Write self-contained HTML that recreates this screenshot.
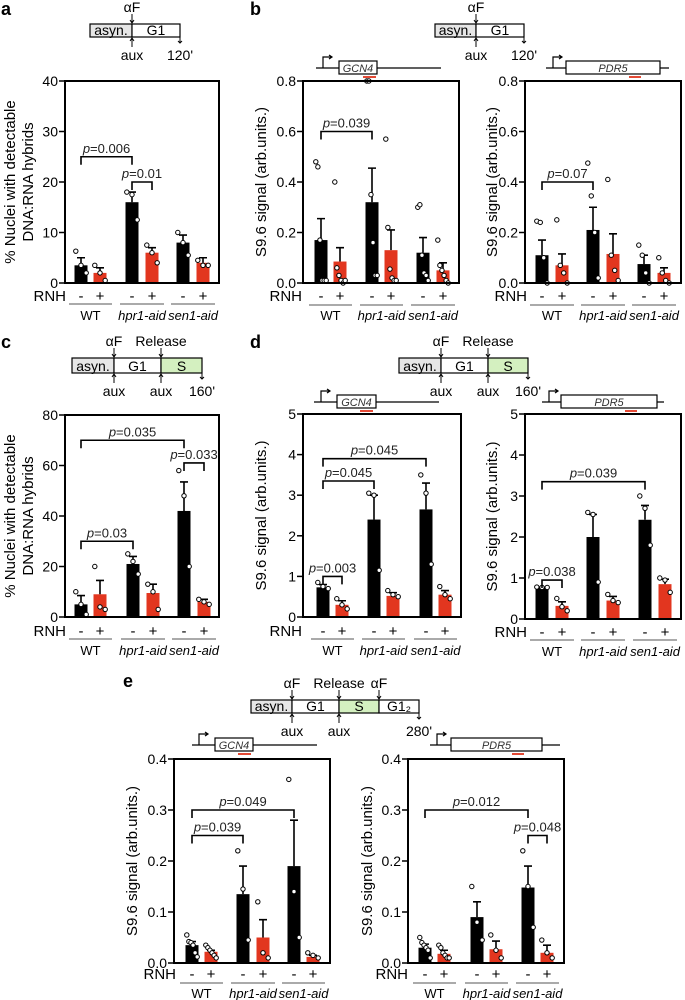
<!DOCTYPE html>
<html><head><meta charset="utf-8">
<style>
html,body{margin:0;padding:0;background:#fff;}
svg{display:block;font-family:"Liberation Sans",Arial,sans-serif;}
</style></head>
<body>
<svg id="fig" width="685" height="1000" viewBox="0 0 685 1000" xmlns="http://www.w3.org/2000/svg"></svg>
<script>
// ---------- DATA ----------
const conditions = ["WT-","WT+","hpr1-","hpr1+","sen1-","sen1+"];
const groupNames = ["WT","hpr1-aid","sen1-aid"];

const aTicks = ["0","10","20","30","40"];
const aMeans = [3.5, 2, 16, 6, 8, 4];
const aErr = [5, 3, 18, 7, 9.5, 5];
const aPts = [[6.3,3.5,2],[3.5,2,0.5],[18,17.5,12.5],[7.5,6,4],[10,8,5.5],[4.5,3.5,3.5]];
const aBrackets = [[0,2,25,"0.006"],[2,3,20,"0.01"]];

const b1Ticks = ["0.0","0.2","0.4","0.6","0.8"];
const b1Means = [0.17, 0.085, 0.32, 0.13, 0.12, 0.05];
const b1Err = [0.255, 0.14, 0.455, 0.21, 0.18, 0.08];
const b1Pts = [[0.48,0.46,0.17,0.01,0.01,0.01],[0.4,0.06,0.03,0.01,0.0,0.01],[0.8,0.8,0.35,0.16,0.03,0.03],[0.57,0.22,0.055,0.02,0.01,0.01],[0.3,0.31,0.11,0.04,0.03,0.01],[0.17,0.07,0.05,0.03,0.01,0.0]];
const b1Brackets = [[0,2,0.6,"0.039"]];

const b2Ticks = ["0.0","0.2","0.4","0.6","0.8"];
const b2Means = [0.11, 0.07, 0.21, 0.115, 0.075, 0.04];
const b2Err = [0.17, 0.115, 0.3, 0.195, 0.11, 0.06];
const b2Pts = [[0.245,0.24,0.1,0.0],[0.25,0.07,0.04,0.0],[0.475,0.345,0.2,0.02],[0.41,0.11,0.05,0.01],[0.15,0.11,0.04,0.0],[0.1,0.04,0.01,0.0]];
const b2Brackets = [[0,2,0.4,"0.07"]];

const cTicks = ["0","20","40","60","80"];
const cMeans = [5, 9, 21, 9.5, 42, 6];
const cErr = [8.5, 14.5, 24, 13, 53.5, 7];
const cPts = [[10,5,1],[20,4,3],[25,22,17],[13,10,3],[58,48,20],[7,6,5]];
const cBrackets = [[0,4,70,"0.035"],[4,5,61,"0.033"],[0,2,30,"0.03"]];

const d1Ticks = ["0","1","2","3","4","5"];
const d1Means = [0.73, 0.3, 2.4, 0.52, 2.65, 0.55];
const d1Err = [0.8, 0.4, 3.0, 0.6, 3.3, 0.65];
const d1Pts = [[0.85,0.75,0.7],[0.45,0.3,0.2],[3.05,3.0,1.15],[0.65,0.55,0.5],[3.5,3.05,1.3],[0.75,0.55,0.45]];
const d1Brackets = [[0,4,3.9,"0.045"],[0,2,3.35,"0.045"],[0,1,1.0,"0.003"]];

const d2Ticks = ["0","1","2","3","4","5"];
const d2Means = [0.77, 0.32, 2.0, 0.45, 2.42, 0.85];
const d2Err = [0.77, 0.42, 2.55, 0.55, 2.77, 0.97];
const d2Pts = [[0.78,0.77,0.77],[0.5,0.3,0.2],[2.6,2.55,0.9],[0.6,0.45,0.4],[3.0,2.7,1.8],[1.0,0.95,0.65]];
const d2Brackets = [[0,4,3.35,"0.039"],[0,1,0.95,"0.038"]];

const e1Ticks = ["0.0","0.1","0.2","0.3","0.4"];
const e1Means = [0.035, 0.022, 0.135, 0.05, 0.19, 0.012];
const e1Err = [0.042, 0.025, 0.19, 0.085, 0.28, 0.015];
const e1Pts = [[0.055,0.042,0.04,0.035,0.02,0.012],[0.035,0.03,0.025,0.02,0.015,0.01],[0.22,0.145,0.045],[0.12,0.02,0.01],[0.36,0.14,0.05],[0.02,0.015,0.01]];
const e1Brackets = [[0,4,0.3,"0.049"],[0,2,0.25,"0.039"]];

const e2Ticks = ["0.0","0.1","0.2","0.3","0.4"];
const e2Means = [0.03, 0.018, 0.09, 0.027, 0.148, 0.02];
const e2Err = [0.037, 0.025, 0.12, 0.043, 0.19, 0.035];
const e2Pts = [[0.05,0.04,0.035,0.03,0.025,0.01],[0.035,0.03,0.02,0.015,0.01,0.01],[0.15,0.08,0.045],[0.055,0.025,0.01],[0.22,0.15,0.07],[0.045,0.02,0.01]];
const e2Brackets = [[0,4,0.3,"0.012"],[4,5,0.25,"0.048"]];

// ---------- RENDER ----------
const NS = "http://www.w3.org/2000/svg";
const svg = document.getElementById("fig");
function mk(tag, attrs, parent, text){
  const e = document.createElementNS(NS, tag);
  for (const k in attrs) e.setAttribute(k, attrs[k]);
  if (text !== undefined) e.textContent = text;
  (parent || svg).appendChild(e);
  return e;
}
const RED = "#e2361f";

function panel(id, L, ticks, means, errs, pts, brackets){
  const g = mk("g", {});
  
  
  const ymax = parseFloat(ticks[ticks.length-1]);
  const Y = v => L.y1 - (v / ymax) * (L.y1 - L.y0);
  const X = i => L.bx[i];
  const bw = L.bw || 13;
  means.forEach((m, i) => {
    const r = mk("rect", {x: X(i)-bw/2, y: Y(m), width: bw, height: L.y1 - Y(m), fill: i%2===0 ? "#000" : RED}, g);
    
    
    const eb = mk("path", {d: `M${X(i)} ${Y(m)}V${Y(errs[i])}M${X(i)-4} ${Y(errs[i])}H${X(i)+4}`, stroke: "#000", "stroke-width": 1.6, fill: "none"}, g);
    
    
  });
  pts.forEach((arr, i) => {
    const n = arr.length;
    arr.forEach((v, j) => {
      const off = n > 1 ? (j - (n-1)/2) * (bw*0.8/(n-1)) : 0;
      const c = mk("circle", {cx: X(i) + off, cy: Y(v), r: 2.2, fill: "#fff", stroke: "#000", "stroke-width": 1}, g);
      
      
    });
  });
  const fr = mk("rect", {x: L.x0, y: L.y0, width: L.x1 - L.x0, height: L.y1 - L.y0, fill: "none", stroke: "#000", "stroke-width": 2}, g);
  
  
  ticks.forEach(t => {
    const v = parseFloat(t);
    mk("line", {x1: L.x0 - 6, x2: L.x0, y1: Y(v), y2: Y(v), stroke: "#000", "stroke-width": 1.5}, g);
    const tl = mk("text", {x: L.x0 - 7, y: Y(v) + 5, "text-anchor": "end", "font-size": 14}, g, t);
    
    
  });
  const cy = (L.y0 + L.y1) / 2;
  const t1 = mk("text", {x: L.tx, y: cy, "text-anchor": "middle", "font-size": 15, transform: `rotate(-90 ${L.tx} ${cy})`}, g, L.title);
  
  
  if (L.title2){
    const t2 = mk("text", {x: L.tx + 18, y: cy, "text-anchor": "middle", "font-size": 15, transform: `rotate(-90 ${L.tx+18} ${cy})`}, g, L.title2);
    
    
  }
  brackets.forEach(b => {
    const xa = X(b[0]), xb = X(b[1]), yy = Y(b[2]);
    const br = mk("path", {d: `M${xa} ${yy+8}V${yy}H${xb}V${yy+8}`, stroke: "#000", "stroke-width": 1.6, fill: "none"}, g);
    
    
    const tx = mk("text", {x: (xa+xb)/2, y: yy - 4, "text-anchor": "middle", "font-size": 13, fill: "#222"}, g);
    
    
    mk("tspan", {"font-style": "italic"}, tx, "p");
    mk("tspan", {}, tx, "=" + b[3]);
  });
  const rl = mk("text", {x: L.rnhX, y: L.y1 + L.r1, "text-anchor": "end", "font-size": 15}, g, "RNH");
  
  
  means.forEach((m, i) => {
    const s = mk("text", {x: X(i), y: L.y1 + L.r1, "text-anchor": "middle", "font-size": 15}, g, i%2===0 ? "-" : "+");
    
    
  });
  groupNames.forEach((gn, k) => {
    const xa = X(2*k) - 12, xb = X(2*k+1) + 12;
    mk("line", {x1: xa, x2: xb, y1: L.y1 + L.r2, y2: L.y1 + L.r2, stroke: "#555", "stroke-width": 1}, g);
    const t = mk("text", {x: (xa+xb)/2, y: L.y1 + L.r3, "text-anchor": "middle", "font-size": 13, "font-style": k ? "italic" : "normal"}, g, gn);
    
    
  });
}

const AT = "% Nuclei with detectable", AT2 = "DNA:RNA hybrids", ST = "S9.6 signal (arb.units.)";
panel("a", {x0:65,x1:219,y0:81,y1:283,bx:[81,100,132,152,183,203],tx:15,title:AT,title2:AT2,rnhX:66,r1:18,r2:21,r3:37}, aTicks, aMeans, aErr, aPts, aBrackets);
panel("b-gcn4", {x0:303,x1:459,y0:81,y1:283,bx:[321,340,372,391,423,443],tx:266,title:ST,rnhX:302,r1:18,r2:22,r3:37}, b1Ticks, b1Means, b1Err, b1Pts, b1Brackets);
panel("b-pdr5", {x0:525,x1:681,y0:81,y1:283,bx:[542,562,593,613,644,664],tx:497,title:ST,rnhX:527,r1:18,r2:22,r3:37}, b2Ticks, b2Means, b2Err, b2Pts, b2Brackets);
panel("c", {x0:65,x1:219,y0:415,y1:617,bx:[81,100,133,153,184,204],tx:15,title:AT,title2:AT2,rnhX:66,r1:19,r2:22,r3:38}, cTicks, cMeans, cErr, cPts, cBrackets);
panel("d-gcn4", {x0:303,x1:461,y0:414,y1:617,bx:[323,342,374,393,426,445],tx:266,title:ST,rnhX:302,r1:19,r2:22,r3:38}, d1Ticks, d1Means, d1Err, d1Pts, d1Brackets);
panel("d-pdr5", {x0:525,x1:681,y0:414,y1:619,bx:[542,562,593,613,645,665],tx:497,title:ST,rnhX:527,r1:18,r2:21,r3:37}, d2Ticks, d2Means, d2Err, d2Pts, d2Brackets);
panel("e-gcn4", {x0:174,x1:330,y0:759,y1:963,bx:[192,211,243,263,294,313],tx:137,title:ST,rnhX:176,r1:16,r2:20,r3:35}, e1Ticks, e1Means, e1Err, e1Pts, e1Brackets);
panel("e-pdr5", {x0:408,x1:564,y0:759,y1:963,bx:[425,444,477,496,528,547],tx:372,title:ST,rnhX:408,r1:16,r2:20,r3:35}, e2Ticks, e2Means, e2Err, e2Pts, e2Brackets);

[["a",1,15],["b",250,15],["c",1,348],["d",250,348],["e",123,687]].forEach(p => {
  const t = mk("text", {x: p[1], y: p[2], "font-size": 18, "font-weight": "bold"}, svg, p[0]);
  
  
});

function schematic(name, y0, y1, segs, downArrows, upArrows, endLabel){
  const g = mk("g", {});
  
  
  segs.forEach(s => {
    mk("rect", {x: s[0], y: y0, width: s[1]-s[0], height: y1-y0, fill: s[3], stroke: "#000", "stroke-width": 1.2}, g);
    mk("text", {x: (s[0]+s[1])/2, y: y1 - 2, "text-anchor": "middle", "font-size": 14}, g, s[2]);
  });
  downArrows.forEach(a => {
    mk("path", {d: `M${a[0]} ${y0-10}V${y0-1}M${a[0]-2} ${y0-4}L${a[0]} ${y0-1}L${a[0]+2} ${y0-4}`, stroke: "#000", fill: "none", "stroke-width": 1}, g);
    mk("text", {x: a[0], y: y0 - 12, "text-anchor": "middle", "font-size": 14}, g, a[1]);
  });
  upArrows.forEach(x => {
    mk("path", {d: `M${x} ${y1+10}V${y1+1}M${x-2} ${y1+4}L${x} ${y1+1}L${x+2} ${y1+4}`, stroke: "#000", fill: "none", "stroke-width": 1}, g);
    mk("text", {x: x, y: y1 + 23, "text-anchor": "middle", "font-size": 14}, g, "aux");
  });
  const ex = segs[segs.length-1][1];
  mk("path", {d: `M${ex} ${y1}V${y1+6}M${ex-2} ${y1+4}L${ex} ${y1+6}L${ex+2} ${y1+4}`, stroke: "#000", fill: "none", "stroke-width": 1}, g);
  mk("text", {x: ex, y: y1 + 23, "text-anchor": "middle", "font-size": 14}, g, endLabel);
}
const GR = "#e6e6e6", GN = "#d4f0c0";
schematic("timeline-a", 24, 37, [[90,132,"asyn.",GR],[132,180,"G1","#fff"]], [[132,"αF"]], [132], "120'");
schematic("timeline-b", 24, 37, [[435,476,"asyn.",GR],[476,524,"G1","#fff"]], [[476,"αF"]], [476], "120'");
schematic("timeline-c", 358, 373, [[72,114,"asyn.",GR],[114,161,"G1","#fff"],[161,202,"S",GN]], [[114,"αF"],[161,"Release"]], [114,161], "160'");
schematic("timeline-d", 358, 373, [[399,441,"asyn.",GR],[441,488,"G1","#fff"],[488,528,"S",GN]], [[441,"αF"],[488,"Release"]], [441,488], "160'");
schematic("timeline-e", 700, 713, [[251,292,"asyn.",GR],[292,339,"G1","#fff"],[339,379,"S",GN],[379,419,"G1\u2082","#fff"]], [[292,"αF"],[339,"Release"],[379,"αF"]], [292,339], "280'");

function gene(name, lx0, lx1, ly, bx0, bx1, rx0, rx1, label){
  const g = mk("g", {});
  
  
  mk("line", {x1: lx0, x2: lx1, y1: ly, y2: ly, stroke: "#000", "stroke-width": 1.2}, g);
  const ax = lx0 + 7;
  mk("path", {d: `M${ax} ${ly}V${ly-11}H${ax+9}M${ax+6} ${ly-13}L${ax+9} ${ly-11}L${ax+6} ${ly-9}`, stroke: "#000", fill: "none", "stroke-width": 1.2}, g);
  mk("rect", {x: bx0, y: ly-7, width: bx1-bx0, height: 13, fill: "#fff", stroke: "#000", "stroke-width": 1.2}, g);
  mk("text", {x: (bx0+bx1)/2, y: ly+4, "text-anchor": "middle", "font-size": 11, "font-style": "italic", fill: "#333"}, g, label);
  mk("line", {x1: rx0, x2: rx1, y1: ly+9, y2: ly+9, stroke: RED, "stroke-width": 1.8}, g);
}
gene("gene-gcn4-b", 316, 441, 68, 339, 377, 363, 376, "GCN4");
gene("gene-pdr5-b", 546, 669, 68, 566, 660, 629, 641, "PDR5");
gene("gene-gcn4-d", 314, 439, 402, 337, 376, 360, 373, "GCN4");
gene("gene-pdr5-d", 542, 664, 402, 561, 657, 625, 637, "PDR5");
gene("gene-gcn4-e", 192, 317, 745, 215, 253, 238, 251, "GCN4");
gene("gene-pdr5-e", 430, 560, 745, 451, 542, 512, 524, "PDR5");
</script>
</body></html>
